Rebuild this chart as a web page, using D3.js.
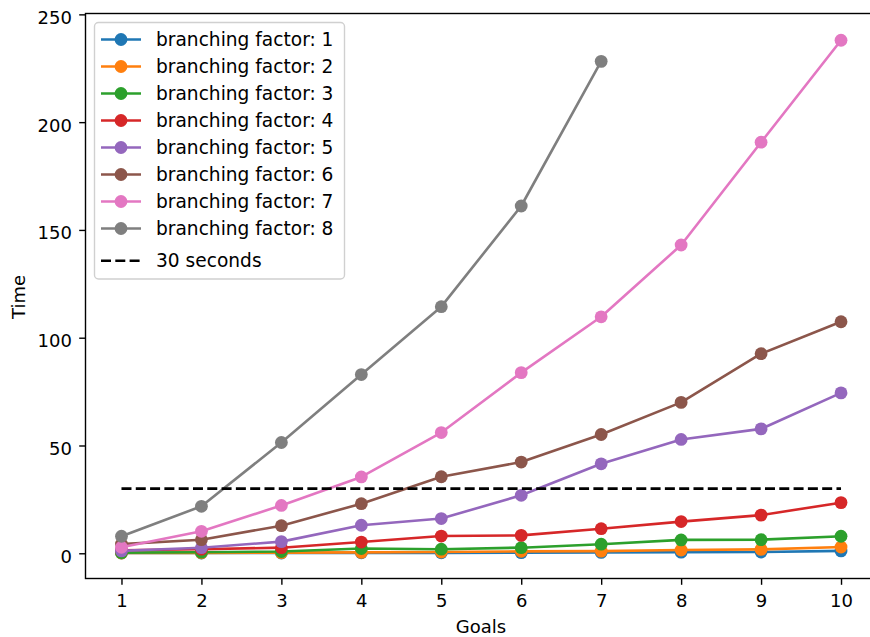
<!DOCTYPE html>
<html>
<head>
<meta charset="utf-8">
<script src="https://cdn.jsdelivr.net/npm/d3@7"></script>
<style>
html,body{margin:0;padding:0;background:#fff;}
svg{display:block;font-family:"DejaVu Sans",sans-serif;}
</style>
</head>
<body>
<svg id="chart" width="870" height="637"></svg>
<script>
const goals = [1,2,3,4,5,6,7,8,9,10];
const bf1 = [0.1,0.1,0.1,0.2,0.2,0.3,0.4,0.5,0.6,1.1];
const bf2 = [0.1,0.2,0.3,0.4,0.6,0.9,1.0,1.5,1.8,2.9];
const bf3 = [0.3,0.5,0.8,2.2,1.9,2.6,4.2,6.2,6.3,7.9];
const bf4 = [1.4,1.9,2.6,5.2,8.0,8.3,11.4,14.7,17.7,23.5];
const bf5 = [1.1,2.6,5.4,13.0,16.1,26.9,41.5,52.8,57.7,74.4];
const bf6 = [4.3,6.3,12.8,23.0,35.5,42.3,55.1,70.0,92.6,107.4];
const bf7 = [2.8,10.2,22.2,35.4,56.0,83.8,109.7,143.0,190.7,238.0];
const bf8 = [7.9,21.8,51.4,82.9,114.4,161.1,228.2];
const seriesValues = [bf1,bf2,bf3,bf4,bf5,bf6,bf7,bf8];
const seriesLabels = ["branching factor: 1","branching factor: 2","branching factor: 3","branching factor: 4","branching factor: 5","branching factor: 6","branching factor: 7","branching factor: 8"];
const colors = ["#1f77b4","#ff7f0e","#2ca02c","#d62728","#9467bd","#8c564b","#e377c2","#7f7f7f"];
const thresholdValue = 30;
const thresholdLabel = "30 seconds";
const yTicks = [0,50,100,150,200,250];
const xLabel = "Goals", yLabel = "Time";

const svg = d3.select("#chart");
const L = 85.5, R = 877, T = 13.5, B = 578.5;
const x = d3.scaleLinear().domain([0.55,10.45]).range([L,R]);
const y = d3.scaleLinear().domain([-11.7,250.4]).range([B,T]);
const FS = 18, LFS = 18.6;
const dash = "10,4.3";

const g = svg.append("g");
const line = d3.line().x((d,i)=>x(goals[i])).y(d=>y(d));

seriesValues.forEach((vals,k)=>{
  g.append("path").datum(vals).attr("d",line)
    .attr("fill","none").attr("stroke",colors[k]).attr("stroke-width",2.6)
    .attr("stroke-linejoin","round").attr("stroke-linecap","square");
  g.selectAll(null).data(vals).enter().append("circle")
    .attr("cx",(d,i)=>x(goals[i])).attr("cy",d=>y(d)).attr("r",6.4)
    .attr("fill",colors[k]);
});
g.append("line").attr("x1",x(goals[0])).attr("x2",x(goals[goals.length-1]))
  .attr("y1",y(thresholdValue)).attr("y2",y(thresholdValue))
  .attr("stroke","#000").attr("stroke-width",2.6).attr("stroke-dasharray",dash);

// spines
svg.append("rect").attr("x",L).attr("y",T).attr("width",R-L).attr("height",B-T)
  .attr("fill","none").attr("stroke","#000").attr("stroke-width",1.4);

// axes
const xAxis = d3.axisBottom(x).tickValues(goals).tickSize(6.3).tickPadding(9.5).tickFormat(d3.format("d"));
const yAxis = d3.axisLeft(y).tickValues(yTicks).tickSize(6.3).tickPadding(7.3).tickFormat(d3.format("d"));
const xa = svg.append("g").attr("transform",`translate(0,${B})`).call(xAxis);
const ya = svg.append("g").attr("transform",`translate(${L},0)`).call(yAxis);
[xa,ya].forEach(a=>{
  a.select(".domain").remove();
  a.selectAll(".tick line").attr("stroke","#000").attr("stroke-width",1.4);
  a.selectAll(".tick text").attr("font-size",FS).attr("fill","#000").attr("font-family","DejaVu Sans");
});
ya.selectAll(".tick text").attr("dy","0.5em");

svg.append("text").attr("x",481).attr("y",633)
  .attr("text-anchor","middle").attr("font-size",FS).text(xLabel);
svg.append("text").attr("transform","translate(25,297) rotate(-90)")
  .attr("text-anchor","middle").attr("font-size",FS).text(yLabel);

// legend
const lg = svg.append("g");
lg.append("rect").attr("x",94.5).attr("y",22.5).attr("width",250).attr("height",256.5).attr("rx",4)
  .attr("fill","#fff").attr("fill-opacity",0.8).attr("stroke","#d0d0d0").attr("stroke-width",1.4);
const rowY = d=>39.5 + d*27;
seriesLabels.forEach((lab,k)=>{
  const yy = rowY(k);
  lg.append("line").attr("x1",101).attr("x2",141).attr("y1",yy).attr("y2",yy)
    .attr("stroke",colors[k]).attr("stroke-width",2.6);
  lg.append("circle").attr("cx",121).attr("cy",yy).attr("r",6.4).attr("fill",colors[k]);
  lg.append("text").attr("x",156).attr("y",yy+6.3).attr("font-size",LFS).text(lab);
});
{
  const yy = 260.7;
  lg.append("line").attr("x1",101).attr("x2",141).attr("y1",yy).attr("y2",yy)
    .attr("stroke","#000").attr("stroke-width",2.6).attr("stroke-dasharray",dash);
  lg.append("text").attr("x",156).attr("y",yy+6.3).attr("font-size",LFS).text(thresholdLabel);
}
</script>
</body>
</html>
